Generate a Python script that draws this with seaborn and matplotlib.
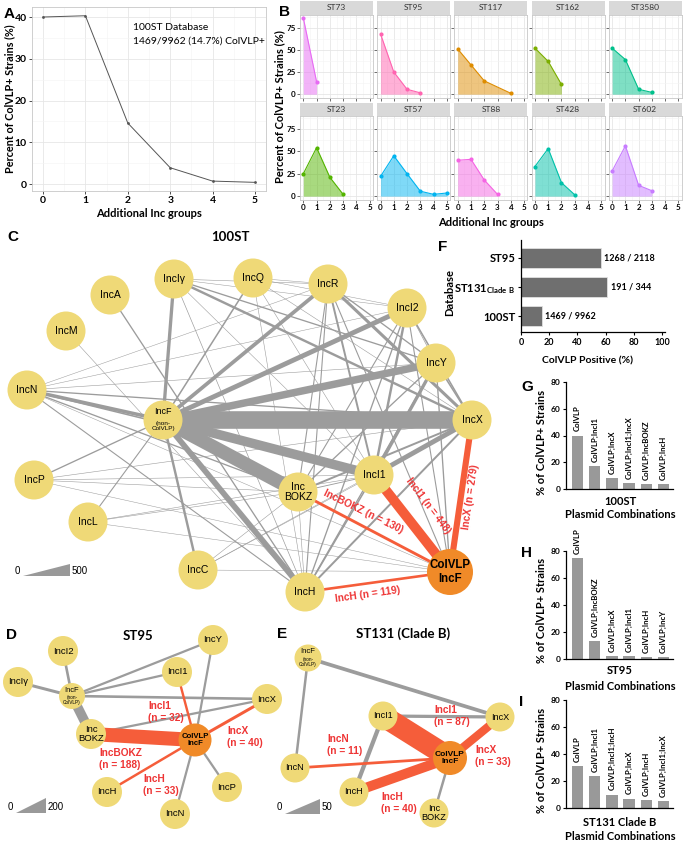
import matplotlib
matplotlib.use("Agg")
import matplotlib.pyplot as plt
import seaborn as sns
import pandas as pd
from matplotlib.patches import Circle, Polygon
from matplotlib.ticker import MultipleLocator

W, H = 685, 841

# Panel A: ColVLP+ strains by number of additional Inc groups (100ST)
a_groups = [0, 1, 2, 3, 4, 5]
a_pct = [40.0, 40.3, 14.6, 3.9, 0.7, 0.4]

# Panel B: same, per sequence type
b_types = ["ST73", "ST95", "ST117", "ST162", "ST3580",
           "ST23", "ST57", "ST88", "ST428", "ST602"]
b_groups = {
    "ST73": [0, 1], "ST95": [0, 1, 2, 3], "ST117": [0, 1, 2, 4],
    "ST162": [0, 1, 2], "ST3580": [0, 1, 2, 3], "ST23": [0, 1, 2, 3],
    "ST57": [0, 1, 2, 3, 4, 5], "ST88": [0, 1, 2, 3], "ST428": [0, 1, 2, 3],
    "ST602": [0, 1, 2, 3],
}
b_pct = {
    "ST73": [86, 14], "ST95": [68, 25, 5.5, 1.5], "ST117": [51, 33, 15, 1],
    "ST162": [52, 37, 11], "ST3580": [52, 39, 5.5, 2], "ST23": [25, 54, 21, 2],
    "ST57": [22, 45, 25, 5.5, 2, 3.5], "ST88": [40, 41, 18, 2],
    "ST428": [33, 53, 15, 1.5], "ST602": [28, 56, 12, 6],
}
b_colors = ["#E76BF3", "#FF64B0", "#DE8C00", "#7CAE00", "#00C08B",
            "#53B400", "#00B4F0", "#F564E3", "#00C1A9", "#C77CFF"]

# Panel F
f_db = ["ST95", "ST131", "100ST"]
f_pct = [56.5, 61.0, 14.8]
f_counts = ["1268 / 2118", "191 / 344", "1469 / 9962"]

# Panels G, H, I
g_combos = ["ColVLP", "ColVLP;IncI1", "ColVLP;IncX", "ColVLP;IncI1;IncX",
            "ColVLP;IncBOKZ", "ColVLP;IncH"]
g_pct = [40, 17, 8, 4.5, 4, 4]
h_combos = ["ColVLP", "ColVLP;IncBOKZ", "ColVLP;IncX", "ColVLP;IncI1",
            "ColVLP;IncH", "ColVLP;IncY"]
h_pct = [75, 13, 2, 2, 1.5, 1.5]
i_combos = ["ColVLP", "ColVLP;IncI1", "ColVLP;IncI1;IncH", "ColVLP;IncX",
            "ColVLP;IncH", "ColVLP;IncI1;IncX"]
i_pct = [31, 24, 10, 7, 6, 5]

# Networks: co-occurrence edges (strain counts)
c_edges = [
    ("IncF", "IncX", 800), ("IncF", "IncBOKZ", 620), ("IncF", "IncI1", 430),
    ("IncF", "IncH", 260), ("IncF", "IncY", 340), ("IncF", "IncI2", 220),
    ("IncF", "IncR", 170), ("IncF", "IncIy", 150), ("IncN", "IncF", 160),
    ("IncN", "IncX", 60), ("IncN", "IncI1", 70), ("IncN", "IncBOKZ", 60),
    ("IncN", "IncH", 50), ("IncN", "IncY", 25), ("IncN", "IncR", 20),
    ("IncN", "IncI2", 20), ("IncX", "IncI1", 220), ("IncY", "IncI1", 150),
    ("IncI2", "IncI1", 110), ("IncR", "IncX", 140), ("IncR", "IncI1", 90),
    ("IncIy", "IncX", 110), ("IncF", "IncC", 110), ("IncH", "IncX", 90),
    ("IncH", "IncI1", 70), ("IncH", "IncY", 60), ("IncH", "IncI2", 60),
    ("IncBOKZ", "IncX", 90), ("IncBOKZ", "IncY", 60), ("IncBOKZ", "IncI2", 50),
    ("IncBOKZ", "IncR", 50), ("IncA", "IncH", 60), ("IncM", "IncH", 25),
    ("IncQ", "IncF", 70), ("IncQ", "IncI1", 25), ("IncQ", "IncX", 25),
    ("IncQ", "IncI2", 20), ("IncQ", "IncR", 20), ("IncQ", "IncH", 25),
    ("IncIy", "IncR", 25), ("IncIy", "IncI2", 20), ("IncIy", "IncI1", 25),
    ("IncIy", "IncH", 30), ("IncIy", "IncY", 60), ("IncP", "IncF", 60),
    ("IncP", "IncI1", 25), ("IncP", "IncX", 25), ("IncP", "IncBOKZ", 25),
    ("IncP", "ColVLP", 20), ("IncL", "IncF", 50), ("IncL", "IncI1", 25),
    ("IncL", "IncBOKZ", 25), ("IncL", "ColVLP", 20), ("IncC", "IncI1", 25),
    ("IncC", "IncBOKZ", 25), ("IncC", "ColVLP", 20), ("IncC", "IncX", 20),
    ("IncH", "IncBOKZ", 25), ("IncR", "IncY", 60), ("IncR", "IncH", 50),
    ("IncR", "ColVLP", 50), ("IncI2", "IncX", 70), ("IncI2", "IncY", 30),
    ("IncI2", "ColVLP", 50), ("IncY", "IncX", 70), ("IncY", "ColVLP", 60),
    ("IncN", "ColVLP", 20), ("IncI1", "IncBOKZ", 40),
]
c_colvlp = [("IncI1", 448), ("IncX", 279), ("IncBOKZ", 130), ("IncH", 119)]

d_edges = [
    ("IncF", "IncI2", 35), ("IncF", "IncIy", 40), ("IncF", "IncY", 30),
    ("IncF", "IncI1", 30), ("IncF", "IncX", 35), ("IncF", "IncBOKZ", 130),
    ("IncBOKZ", "IncX", 30), ("ColVLP", "IncY", 30), ("ColVLP", "IncN", 30),
    ("ColVLP", "IncP", 30),
]
d_colvlp = [("IncBOKZ", 188), ("IncI1", 32), ("IncX", 40), ("IncH", 33)]

e_edges = [
    ("IncF", "IncN", 10), ("IncF", "IncX", 15), ("IncI1", "IncX", 13),
    ("IncI1", "IncH", 17), ("ColVLP", "IncBOKZ", 10),
]
e_colvlp = [("IncI1", 87), ("IncH", 40), ("IncN", 11), ("IncX", 33)]

# node layout (figure pixels)
c_pos = {
    "IncA": (110, 295), "IncM": (66, 331), "IncIy": (174, 279), "IncQ": (253, 278),
    "IncR": (328, 284), "IncI2": (407, 308), "IncY": (436, 363), "IncN": (27, 390),
    "IncF": (163, 420), "IncX": (472, 420), "IncP": (34, 480), "IncI1": (374, 475),
    "IncBOKZ": (298, 492), "IncL": (88, 522), "IncC": (198, 570), "IncH": (305, 592),
    "ColVLP": (450, 572),
}
d_pos = {
    "IncI2": (63, 651), "IncIy": (18, 682), "IncF": (72, 696), "IncY": (213, 640),
    "IncI1": (177, 672), "IncX": (267, 699), "IncBOKZ": (91, 734), "ColVLP": (195, 740),
    "IncH": (107, 792), "IncN": (175, 814), "IncP": (227, 787),
}
e_pos = {
    "IncF": (308, 658), "IncI1": (383, 716), "IncN": (295, 768), "IncH": (354, 792),
    "ColVLP": (450, 758), "IncBOKZ": (434, 813), "IncX": (500, 717),
}

GRAY = "#9c9c9c"
RED = "#F55D3A"
LABEL_RED = "#EE3535"
YELLOW = "#EFD977"
ORANGE = "#F08A28"

plt.rcParams["font.family"] = ["Lato", "DejaVu Sans"]
fig = plt.figure(figsize=(W / 100, H / 100), dpi=100)


def px_axes(x0, y0, x1, y1):
    return fig.add_axes([x0 / W, 1 - y1 / H, (x1 - x0) / W, (y1 - y0) / H])


def gg_style(ax):
    ax.grid(which="major", color="#E6E6E6", lw=0.6)
    ax.grid(which="minor", color="#F3F3F3", lw=0.4)
    ax.set_axisbelow(True)
    for s in ax.spines.values():
        s.set_color("#C8C8C8")
        s.set_linewidth(0.6)
    ax.tick_params(which="minor", length=0)
    ax.set_xlabel("")
    ax.set_ylabel("")


# ---- Panel A ----
ax = px_axes(32.4, 7.4, 265.6, 190.7)
sns.lineplot(x=a_groups, y=a_pct, ax=ax, color="#555555", lw=0.7,
             marker="o", markersize=2, markeredgewidth=0)
ax.set_xlim(-0.25, 5.25)
ax.set_ylim(-1.6, 42.3)
ax.set_xticks(range(6))
ax.set_yticks([0, 10, 20, 30, 40])
ax.xaxis.set_minor_locator(MultipleLocator(0.5))
ax.yaxis.set_minor_locator(MultipleLocator(5))
gg_style(ax)
ax.tick_params(which="major", length=2.5, width=0.6, color="#333333",
               labelsize=7.5, pad=1.5)
plt.setp(ax.get_xticklabels() + ax.get_yticklabels(), fontweight="bold")

# ---- Panel B ----
b_rows = []
for st in b_types:
    for g, p in zip(b_groups[st], b_pct[st]):
        b_rows.append((st, g, p))
b_df = pd.DataFrame(b_rows, columns=["st", "groups", "pct"])

for k, st in enumerate(b_types):
    row, col = divmod(k, 5)
    x0 = 300 + col * 77.2
    top, bot = (15, 98) if row == 0 else (116, 200)
    strip_top = 1 if row == 0 else 103
    ax = px_axes(x0, top, x0 + 73, bot)
    sub = b_df[b_df.st == st]
    ax.fill_between(sub.groups, 0, sub.pct, color=b_colors[k], alpha=0.5, lw=0)
    sns.lineplot(data=sub, x="groups", y="pct", ax=ax, color=b_colors[k], lw=0.8,
                 marker="o", markersize=3, markeredgewidth=0)
    ax.set_xlim(-0.25, 5.25)
    ax.set_ylim(-4.3, 89.3)
    ax.set_xticks(range(6))
    ax.set_yticks([0, 25, 50, 75])
    ax.xaxis.set_minor_locator(MultipleLocator(0.5))
    ax.yaxis.set_minor_locator(MultipleLocator(12.5))
    gg_style(ax)
    ax.tick_params(which="major", length=2, width=0.5, color="#333333",
                   labelsize=5.8, pad=1)
    if col != 0:
        ax.set_yticklabels([])
    if row == 0:
        ax.set_xticklabels([])
    plt.setp(ax.get_xticklabels() + ax.get_yticklabels(), fontweight="bold")
    sax = px_axes(x0, strip_top, x0 + 73, top)
    sax.set_facecolor("#D9D9D9")
    sax.set_xticks([])
    sax.set_yticks([])
    for s in sax.spines.values():
        s.set_visible(False)
    sax.text(0.5, 0.5, st, ha="center", va="center", fontsize=6, color="#333333",
             transform=sax.transAxes)

# ---- Panel F ----
ax = px_axes(521, 240, 665, 332)
sns.barplot(x=f_pct, y=f_db, orient="h", color="#6f6f6f", saturation=1, width=0.69,
            edgecolor="#e0e0e0", linewidth=0.6, ax=ax)
ax.set_xlim(0, 102)
ax.set_ylim(2.55, -0.62)
ax.set_xticks([0, 20, 40, 60, 80, 100])
ax.set_yticks([0, 1, 2])
ax.set_yticklabels(["ST95", r"ST131$_{\mathregular{Clade\ B}}$", "100ST"],
                   fontweight="bold", fontsize=8)
plt.setp(ax.get_xticklabels(), fontweight="bold", fontsize=6.5)
ax.spines[["top", "right"]].set_visible(False)
for s in ["left", "bottom"]:
    ax.spines[s].set_linewidth(0.9)
ax.tick_params(length=2.5, width=0.8, pad=1.5)
ax.set_xlabel("")
ax.set_ylabel("")
for i, v in enumerate(f_pct):
    ax.text(v + 2.5, i, f_counts[i], va="center", fontsize=6.5, fontweight="bold")


# ---- Panels G, H, I ----
def combo_panel(y0, y1, combos, pct):
    ax = px_axes(566, y0, 673, y1)
    sns.barplot(x=combos, y=pct, color="#999999", saturation=1, width=0.67, ax=ax)
    ax.set_ylim(0, 80)
    ax.set_xlim(-0.67, 5.55)
    ax.set_yticks([0, 20, 40, 60, 80])
    ax.set_xticks([])
    ax.spines[["top", "right"]].set_visible(False)
    for s in ["left", "bottom"]:
        ax.spines[s].set_linewidth(0.9)
    ax.tick_params(length=2.5, width=0.8, pad=1.5, labelsize=6)
    plt.setp(ax.get_yticklabels(), fontweight="bold")
    ax.set_xlabel("")
    ax.set_ylabel("")
    for i, (c, v) in enumerate(zip(combos, pct)):
        ax.text(i, v + 3, c, rotation=90, ha="center", va="bottom", fontsize=5.6,
                fontweight="bold", clip_on=False)


combo_panel(382, 489, g_combos, g_pct)
combo_panel(551, 659, h_combos, h_pct)
combo_panel(700, 808, i_combos, i_pct)

# ---- overlay for networks and free text ----
net = fig.add_axes([0, 0, 1, 1])
net.set_xlim(0, W)
net.set_ylim(H, 0)
net.axis("off")
net.patch.set_visible(False)


def draw_network(pos, edges, colvlp, px_per_n, r, rf, big_r, fs, ffs, fbig, fsmall):
    for a, b, n in edges:
        (x1, y1), (x2, y2) = pos[a], pos[b]
        net.plot([x1, x2], [y1, y2], color=GRAY, lw=max(n * px_per_n, 0.5) * 0.72,
                 solid_capstyle="butt", zorder=2)
    for b, n in colvlp:
        (x1, y1), (x2, y2) = pos["ColVLP"], pos[b]
        net.plot([x1, x2], [y1, y2], color=RED, lw=n * px_per_n * 0.72,
                 solid_capstyle="butt", zorder=3)
    fam = "Liberation Sans"
    for name, (x, y) in pos.items():
        if name == "ColVLP":
            net.add_patch(Circle((x, y), big_r, fc=ORANGE, ec="none", zorder=4))
            net.text(x, y, "ColVLP\nIncF", ha="center", va="center", fontsize=fbig,
                     fontweight="bold", family=fam, linespacing=1.15, zorder=5)
        elif name == "IncF":
            net.add_patch(Circle((x, y), rf, fc=YELLOW, ec="none", zorder=4))
            net.text(x, y - rf * 0.45, "IncF", ha="center", va="center",
                     fontsize=ffs, family=fam, zorder=5)
            net.text(x, y + rf * 0.3, "(non-\nColVLP)", ha="center", va="center",
                     fontsize=fsmall, family=fam, linespacing=1.0, zorder=5)
        else:
            net.add_patch(Circle((x, y), r, fc=YELLOW, ec="none", zorder=4))
            txt = "Inc\nBOKZ" if name == "IncBOKZ" else name.replace("Iy", "Iγ")
            net.text(x, y, txt, ha="center", va="center", fontsize=fs,
                     family=fam, linespacing=1.05, zorder=5)


draw_network(c_pos, c_edges, c_colvlp, 11 / 500, 19.5, 19.5, 23, 7.5, 6.5, 8.3, 4.6)
draw_network(d_pos, d_edges, d_colvlp, 15 / 200, 15, 13, 16.5, 6.8, 5.4, 5.6, 3.4)
draw_network(e_pos, e_edges, e_colvlp, 0.25, 14.5, 13.5, 17, 6.6, 5.6, 6.0, 3.4)

lab = dict(color=LABEL_RED, fontweight="bold", family="Liberation Sans",
           fontsize=7.3, zorder=6)
# panel C edge labels
net.text(363, 512, "IncBOKZ (n = 130)", rotation=-26, ha="center", va="center",
         rotation_mode="anchor", **lab)
net.text(428, 506, "IncI1 (n = 448)", rotation=-53, ha="center", va="center",
         rotation_mode="anchor", **lab)
net.text(471, 497, "IncX (n = 279)", rotation=82, ha="center", va="center",
         rotation_mode="anchor", **lab)
net.text(368, 594, "IncH (n = 119)", rotation=8, ha="center", va="center",
         rotation_mode="anchor", **lab)
# panel D edge labels
for x, y, s in [(148, 712, "IncI1\n(n = 32)"), (99, 759, "IncBOKZ\n(n = 188)"),
                (143, 785, "IncH\n(n = 33)"), (227, 737, "IncX\n(n = 40)")]:
    net.text(x, y, s, ha="left", va="center", linespacing=1.25, **lab)
# panel E edge labels
for x, y, s in [(434, 716, "IncI1\n(n = 87)"), (327, 745, "IncN\n(n = 11)"),
                (381, 803, "IncH\n(n = 40)"), (475, 756, "IncX\n(n = 33)")]:
    net.text(x, y, s, ha="left", va="center", linespacing=1.25, **lab)

# scale triangles
for (x0, x1, yb, yt, lo, hi) in [(23, 70, 576, 564, "0", "500"),
                                 (16, 46, 813, 798, "0", "200"),
                                 (285, 320, 814, 799, "0", "50")]:
    net.add_patch(Polygon([(x0, yb), (x1, yb), (x1, yt)], closed=True, fc="#999999",
                          ec="none", zorder=3))
    net.text(x0 - 3, (yb + yt) / 2 + 1, lo, ha="right", va="center", fontsize=7,
             family="Liberation Sans")
    net.text(x1 + 2, (yb + yt) / 2 + 1, hi, ha="left", va="center", fontsize=7,
             family="Liberation Sans")

# titles
net.text(230, 237, "100ST", ha="center", va="center", fontsize=9.5, fontweight="bold")
net.text(138, 636, "ST95", ha="center", va="center", fontsize=9.5, fontweight="bold")
net.text(403, 634, "ST131 (Clade B)", ha="center", va="center", fontsize=9.5,
         fontweight="bold")

# panel letters
for x, y, s in [(4, 14, "A"), (279, 12, "B"), (7, 237, "C"), (438, 247, "F"),
                (521, 387, "G"), (521, 553, "H"), (519, 702, "I"),
                (6, 635, "D"), (277, 634, "E")]:
    net.text(x, y, s, ha="left", va="center", fontsize=11, fontweight="bold",
             family="Liberation Sans")

# axis labels and annotations
net.text(133, 27, "100ST Database", ha="left", va="center", fontsize=7.5)
net.text(133, 41, "1469/9962 (14.7%) ColVLP+", ha="left", va="center", fontsize=7.5)
net.text(10, 99, "Percent of ColVLP+ Strains (%)", rotation=90, ha="center",
         va="center", fontsize=7.8, fontweight="bold")
net.text(149, 213, "Additional Inc groups", ha="center", va="center", fontsize=8,
         fontweight="bold")
net.text(280, 107, "Percent of ColVLP+ Strains (%)", rotation=90, ha="center",
         va="center", fontsize=8, fontweight="bold")
net.text(491, 222, "Additional Inc groups", ha="center", va="center", fontsize=8,
         fontweight="bold")
net.text(450, 292, "Database", rotation=90, ha="center", va="center", fontsize=8,
         fontweight="bold")
net.text(588, 361, "ColVLP Positive (%)", ha="center", va="center", fontsize=7.5,
         fontweight="bold")
for yc in [442, 610, 760]:
    net.text(542, yc, "% of ColVLP+ Strains", rotation=90, ha="center", va="center",
             fontsize=8, fontweight="bold")
for y, s in [(501, "100ST"), (515, "Plasmid Combinations"),
             (670, "ST95"), (686, "Plasmid Combinations"),
             (822, "ST131 Clade B"), (836, "Plasmid Combinations")]:
    net.text(620, y, s, ha="center", va="center", fontsize=8, fontweight="bold")

fig.savefig("out.png", dpi=100)
